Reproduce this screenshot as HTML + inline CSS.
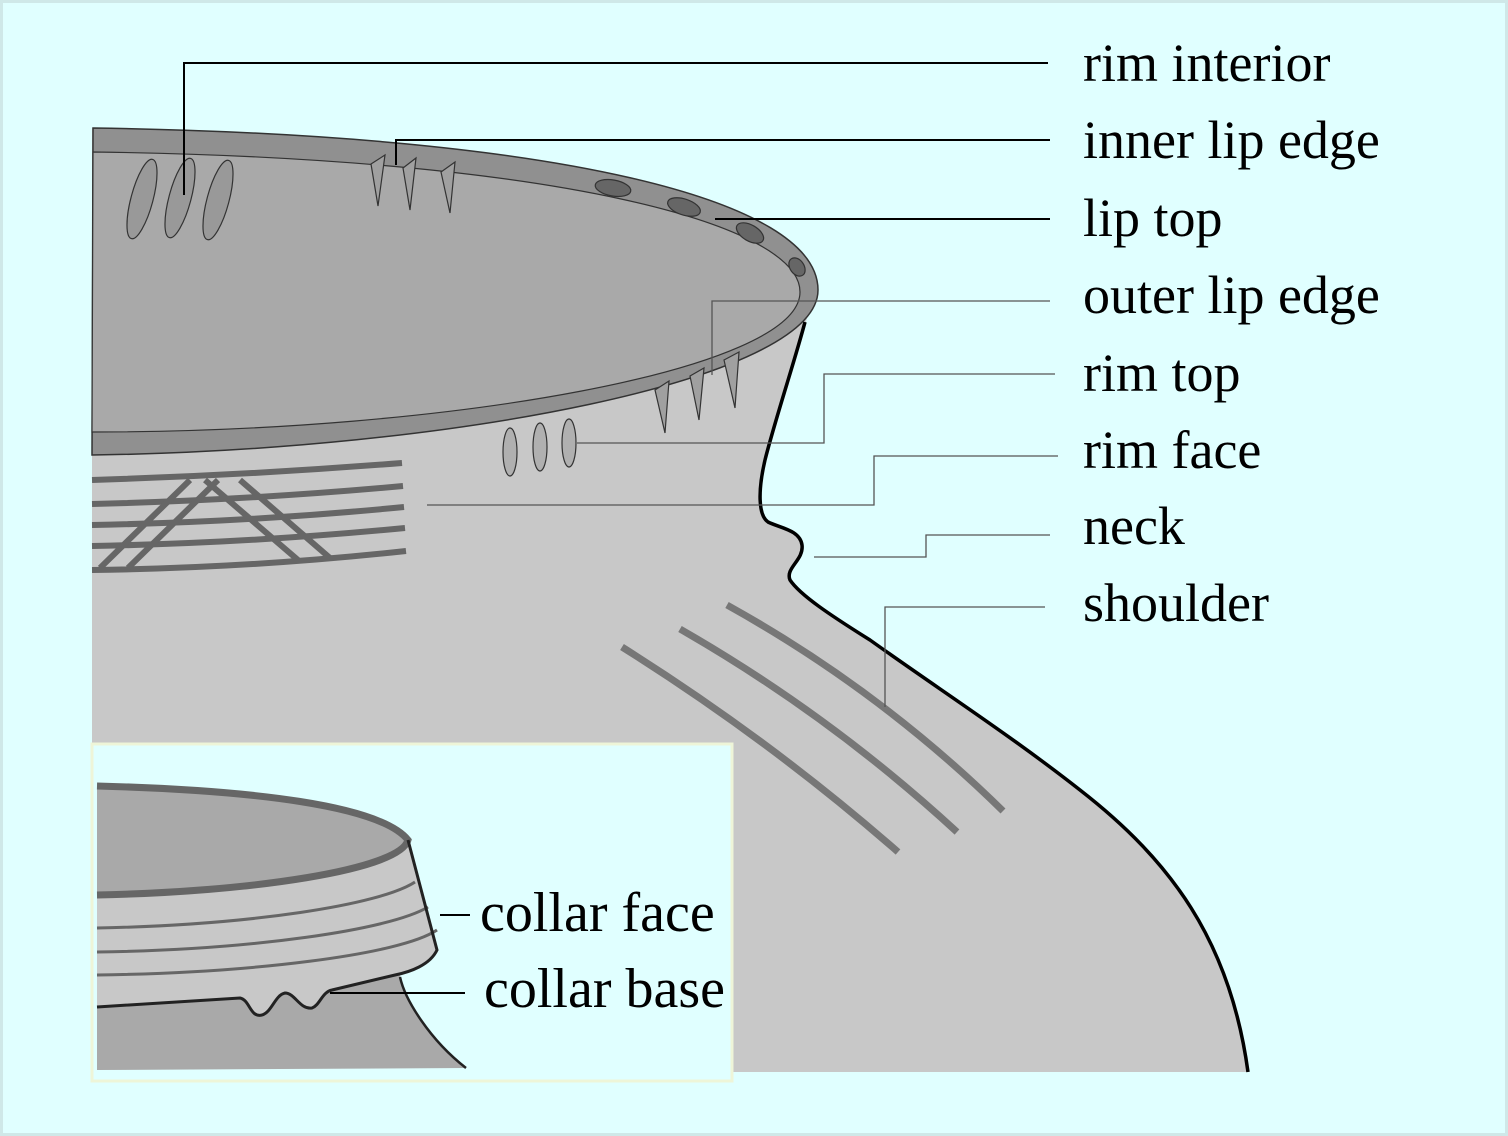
<!DOCTYPE html>
<html><head><meta charset="utf-8"><style>
html,body{margin:0;padding:0;background:#e0ffff}
svg{display:block}
text{font-family:"Liberation Serif",serif;font-size:54px;fill:#000}
</style></head><body>
<svg width="1508" height="1136" viewBox="0 0 1508 1136" xmlns="http://www.w3.org/2000/svg">
<rect x="0" y="0" width="1508" height="1136" fill="#e0ffff"/>
<rect x="1.5" y="1.5" width="1505" height="1133" fill="none" stroke="#cfe8e8" stroke-width="3"/>
<!-- body -->
<path d="M92,128 L818,290 C812,300 808,315 805,325 C795,360 775,420 765,460 C758,490 758,515 768,522 C780,528 800,530 802,545 C804,560 785,568 790,580 C800,595 830,615 870,640 C940,690 1010,735 1080,790 C1170,860 1230,940 1248,1072 L92,1072 Z" fill="#c8c8c8"/>
<path d="M805,322 C795,360 775,420 765,460 C758,490 758,515 768,522 C780,528 800,530 802,545 C804,560 785,568 790,580 C800,595 830,615 870,640 C940,690 1010,735 1080,790 C1170,860 1230,940 1248,1072" fill="none" stroke="#000" stroke-width="3.5"/>
<!-- rim -->
<path d="M93,128 C560,135 818,200 818,290 C818,380 450,450 92,455 Z" fill="#909090" stroke="#333" stroke-width="1.5"/>
<path d="M93,152 C560,158 800,225 800,292 C800,370 450,432 92,432 Z" fill="#a9a9a9" stroke="#333" stroke-width="1.2"/>
<!-- rim interior ovals -->
<g fill="#999" stroke="#333" stroke-width="1.2">
<ellipse cx="142" cy="199" rx="11" ry="41" transform="rotate(15 142 199)"/>
<ellipse cx="180" cy="198" rx="11" ry="41" transform="rotate(15 180 198)"/>
<ellipse cx="218" cy="200" rx="11" ry="41" transform="rotate(15 218 200)"/>
</g>
<!-- lip top dots -->
<g fill="#666" stroke="#333" stroke-width="1.2">
<ellipse cx="613" cy="188" rx="18" ry="8" transform="rotate(10 613 188)"/>
<ellipse cx="684" cy="207" rx="17" ry="8" transform="rotate(18 684 207)"/>
<ellipse cx="750" cy="233" rx="15" ry="8" transform="rotate(30 750 233)"/>
<ellipse cx="797" cy="267" rx="10" ry="7" transform="rotate(55 797 267)"/>
</g>
<!-- teeth -->
<g fill="#a0a0a0" stroke="#333" stroke-width="1.2">
<path d="M371,164 L385,155 L378,206 Z"/>
<path d="M403,168 L416,158 L410,210 Z"/>
<path d="M441,172 L455,162 L450,213 Z"/>
<path d="M655,390 L669,381 L665,433 Z"/>
<path d="M690,376 L704,368 L699,420 Z"/>
<path d="M724,360 L739,352 L735,408 Z"/>
</g>
<!-- rim top ovals -->
<g fill="#b0b0b0" stroke="#333" stroke-width="1.2">
<ellipse cx="510" cy="452" rx="7" ry="24"/>
<ellipse cx="540" cy="447" rx="7" ry="24"/>
<ellipse cx="569" cy="443" rx="7" ry="24"/>
</g>
<!-- rim face hatch -->
<g fill="none" stroke="#666" stroke-width="6">
<path d="M92,480 Q250,475 402,463"/>
<path d="M92,504 Q250,500 403,486"/>
<path d="M92,525 Q250,522 404,507"/>
<path d="M92,546 Q250,543 405,528"/>
<path d="M92,570 Q250,568 406,551"/>
<path d="M100,568 L190,480 M128,568 L218,480 M205,480 L298,560 M240,480 L330,558"/>
</g>
<!-- shoulder stripes -->
<g fill="none" stroke="#777" stroke-width="7">
<path d="M622,647 Q770,740 898,852"/>
<path d="M680,629 Q830,715 957,832"/>
<path d="M727,605 Q880,690 1003,811"/>
</g>
<!-- leader lines -->
<g fill="none" stroke="#000" stroke-width="2">
<path d="M184,195 V63 H1048"/>
<path d="M396,165 V140 H1050"/>
<path d="M715,219 H1050"/>
</g>
<g fill="none" stroke="#555" stroke-width="1.3">
<path d="M712,375 V301 H1050"/>
<path d="M577,443 H824 V374 H1055"/>
<path d="M427,505 H874 V456 H1058"/>
<path d="M814,557 H926 V535 H1050"/>
<path d="M885,707 V607 H1045"/>
</g>
<text x="1083" y="81">rim interior</text>
<text x="1083" y="158">inner lip edge</text>
<text x="1083" y="236">lip top</text>
<text x="1083" y="313">outer lip edge</text>
<text x="1083" y="391">rim top</text>
<text x="1083" y="468">rim face</text>
<text x="1083" y="544">neck</text>
<text x="1083" y="621">shoulder</text>
<!-- inset -->
<rect x="92" y="744" width="640" height="337" fill="#e0ffff" stroke="#eef5d8" stroke-width="3"/>
<path d="M97,1005 L240,998 C250,1000 250,1018 262,1015 C272,1012 275,995 285,993 C295,993 300,1010 312,1008 C320,1005 322,992 332,990 L400,975 C405,1000 430,1040 466,1068 L97,1070 Z" fill="#a9a9a9"/>
<path d="M400,977 C405,1000 430,1040 466,1068" fill="none" stroke="#222" stroke-width="2.5"/>
<path d="M97,786 C250,790 380,805 408,840 L437,950 C430,965 410,972 395,975 L332,990 C322,992 320,1005 312,1008 C300,1010 295,993 285,993 C275,995 272,1012 262,1015 C250,1018 250,1000 240,998 L97,1007 Z" fill="#c8c8c8"/>
<path d="M97,786 C250,790 380,805 408,840 C400,870 250,892 97,895 Z" fill="#a9a9a9"/>
<path d="M97,786 C250,790 380,805 408,840 C400,870 250,892 97,895" fill="none" stroke="#666" stroke-width="7"/>
<g fill="none" stroke="#666" stroke-width="3">
<path d="M97,928 C250,925 380,905 415,882"/>
<path d="M97,952 C250,950 390,930 428,907"/>
<path d="M97,975 C250,973 400,955 437,930"/>
</g>
<path d="M408,840 L437,950 C430,965 410,972 395,975 L332,990 C322,992 320,1005 312,1008 C300,1010 295,993 285,993 C275,995 272,1012 262,1015 C250,1018 250,1000 240,998 L97,1007" fill="none" stroke="#222" stroke-width="3"/>
<path d="M440,915 H470 M330,993 H465" stroke="#000" stroke-width="2"/>
<text x="480" y="931" style="font-size:56px">collar face</text>
<text x="484" y="1007" style="font-size:56px">collar base</text>
</svg>
</body></html>
